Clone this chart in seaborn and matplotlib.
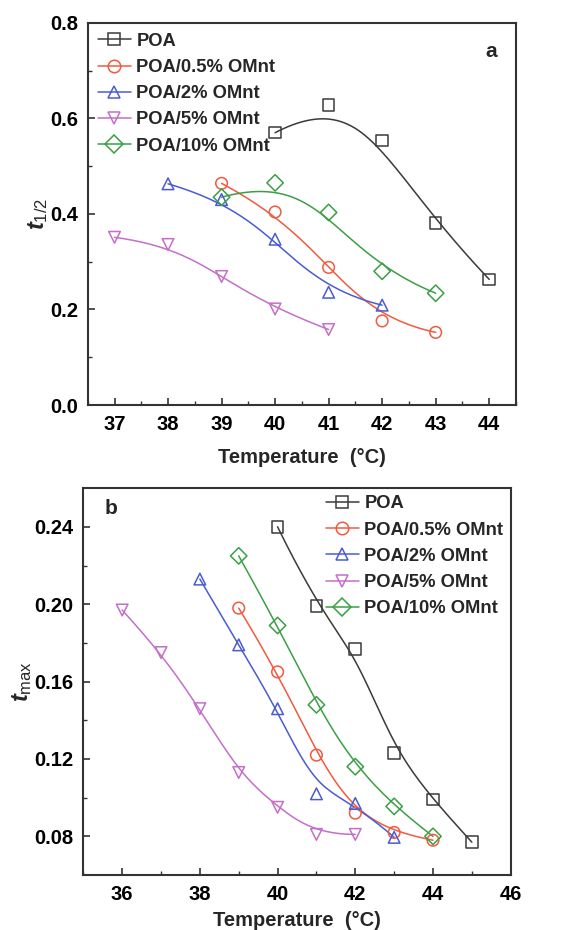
import numpy as np
import pandas as pd
import matplotlib
matplotlib.use("Agg")
import matplotlib.pyplot as plt
import seaborn as sns
from matplotlib.lines import Line2D
from matplotlib.ticker import MultipleLocator

series_names = ["POA", "POA/0.5% OMnt", "POA/2% OMnt", "POA/5% OMnt", "POA/10% OMnt"]
series_colors = ["#3a3a3a", "#f05a40", "#4a5ccf", "#c46fc8", "#3a9f45"]
series_markers = ["s", "o", "^", "v", "D"]

# Panel a: half-time t1/2 vs crystallization temperature
temp_a_poa = [40, 41, 42, 43, 44]
thalf_poa = [0.570, 0.628, 0.554, 0.381, 0.263]
temp_a_05 = [39, 40, 41, 42, 43]
thalf_05 = [0.464, 0.404, 0.288, 0.176, 0.152]
temp_a_2 = [38, 39, 40, 41, 42]
thalf_2 = [0.463, 0.430, 0.347, 0.236, 0.209]
temp_a_5 = [37, 38, 39, 40, 41]
thalf_5 = [0.351, 0.336, 0.269, 0.201, 0.158]
temp_a_10 = [39, 40, 41, 42, 43]
thalf_10 = [0.435, 0.465, 0.403, 0.280, 0.234]

# Panel b: t_max vs crystallization temperature
temp_b_poa = [40, 41, 42, 43, 44, 45]
tmax_poa = [0.240, 0.199, 0.177, 0.123, 0.099, 0.077]
temp_b_05 = [39, 40, 41, 42, 43, 44]
tmax_05 = [0.198, 0.165, 0.122, 0.092, 0.082, 0.078]
temp_b_2 = [38, 39, 40, 41, 42, 43]
tmax_2 = [0.213, 0.179, 0.146, 0.102, 0.097, 0.0795]
temp_b_5 = [36, 37, 38, 39, 40, 41, 42]
tmax_5 = [0.197, 0.175, 0.146, 0.113, 0.095, 0.081, 0.081]
temp_b_10 = [39, 40, 41, 42, 43, 44]
tmax_10 = [0.225, 0.189, 0.148, 0.116, 0.0955, 0.080]

panel_a = [(temp_a_poa, thalf_poa), (temp_a_05, thalf_05), (temp_a_2, thalf_2),
           (temp_a_5, thalf_5), (temp_a_10, thalf_10)]
panel_b = [(temp_b_poa, tmax_poa), (temp_b_05, tmax_05), (temp_b_2, tmax_2),
           (temp_b_5, tmax_5), (temp_b_10, tmax_10)]


def bspline_curve(x, y, num=200):
    """Clamped cubic B-spline using the measured points as control points."""
    pts = np.column_stack([x, y]).astype(float)
    n = len(pts)
    k = min(3, n - 1)
    knots = np.concatenate([np.zeros(k), np.linspace(0, 1, n - k + 1), np.ones(k)])
    u = np.linspace(0, 1, num)
    u[-1] -= 1e-9

    def basis(i, d):
        if d == 0:
            return ((knots[i] <= u) & (u < knots[i + 1])).astype(float)
        out = np.zeros_like(u)
        den1 = knots[i + d] - knots[i]
        den2 = knots[i + d + 1] - knots[i + 1]
        if den1 > 0:
            out += (u - knots[i]) / den1 * basis(i, d - 1)
        if den2 > 0:
            out += (knots[i + d + 1] - u) / den2 * basis(i + 1, d - 1)
        return out

    B = np.column_stack([basis(i, k) for i in range(n)])
    c = B @ pts
    return c[:, 0], c[:, 1]


def make_frames(panel):
    pts, curves = [], []
    for name, (xs, ys) in zip(series_names, panel):
        pts.append(pd.DataFrame({"T": xs, "v": ys, "series": name}))
        cx, cy = bspline_curve(xs, ys)
        curves.append(pd.DataFrame({"T": cx, "v": cy, "series": name}))
    return pd.concat(pts, ignore_index=True), pd.concat(curves, ignore_index=True)


sns.set_theme(style="ticks")
plt.rcParams["font.family"] = ["Liberation Sans", "DejaVu Sans"]
plt.rcParams["font.weight"] = "bold"
plt.rcParams["mathtext.fontset"] = "custom"
plt.rcParams["mathtext.it"] = "Liberation Sans:italic:bold"
plt.rcParams["mathtext.rm"] = "Liberation Sans:bold"
plt.rcParams["mathtext.bf"] = "Liberation Sans:bold"

fig = plt.figure(figsize=(5.85, 9.3), dpi=100)
ax_a = fig.add_axes([0.150, 0.5645, 0.732, 0.411])
ax_b = fig.add_axes([0.1424, 0.0591, 0.7306, 0.416])

palette = dict(zip(series_names, series_colors))


def draw_panel(ax, panel):
    pts, curves = make_frames(panel)
    sns.lineplot(data=curves, x="T", y="v", hue="series", palette=palette,
                 sort=False, estimator=None, legend=False, linewidth=1.1, ax=ax)
    for name, marker in zip(series_names, series_markers):
        sub = pts[pts["series"] == name]
        sns.scatterplot(data=sub, x="T", y="v", marker=marker, s=70,
                        facecolor="none", edgecolor=palette[name],
                        linewidth=1.1, legend=False, ax=ax, zorder=3)


draw_panel(ax_a, panel_a)
draw_panel(ax_b, panel_b)

handles = [Line2D([0], [0], color=c, marker=m, markersize=9, markerfacecolor="none",
                  markeredgecolor=c, markeredgewidth=1.1, linewidth=1.1)
           for c, m in zip(series_colors, series_markers)]

# Axes styling
ax_a.set_xlim(36.5, 44.5)
ax_a.set_ylim(0.0, 0.8)
ax_a.xaxis.set_major_locator(MultipleLocator(1))
ax_a.xaxis.set_minor_locator(MultipleLocator(0.5))
ax_a.yaxis.set_major_locator(MultipleLocator(0.2))
ax_a.yaxis.set_minor_locator(MultipleLocator(0.1))
ax_a.yaxis.set_major_formatter(matplotlib.ticker.FormatStrFormatter("%.1f"))

ax_b.set_xlim(35, 46)
ax_b.set_ylim(0.06, 0.26)
ax_b.xaxis.set_major_locator(MultipleLocator(2))
ax_b.xaxis.set_minor_locator(MultipleLocator(1))
ax_b.yaxis.set_major_locator(matplotlib.ticker.FixedLocator([0.08, 0.12, 0.16, 0.20, 0.24]))
ax_b.yaxis.set_minor_locator(matplotlib.ticker.FixedLocator([0.10, 0.14, 0.18, 0.22]))
ax_b.yaxis.set_major_formatter(matplotlib.ticker.FormatStrFormatter("%.2f"))

for ax in (ax_a, ax_b):
    for sp in ax.spines.values():
        sp.set_visible(True)
        sp.set_linewidth(1.5)
        sp.set_color("#333333")
    ax.tick_params(which="major", direction="in", length=5, width=1.2,
                   labelsize=14.5, color="#333333", labelcolor="black", pad=7)
    ax.tick_params(which="minor", direction="in", length=3, width=1.0, color="#333333")
    for lab in ax.get_xticklabels() + ax.get_yticklabels():
        lab.set_fontweight("bold")
    ax.set_xlabel("Temperature  (°C)", fontsize=14.5, fontweight="bold")

ax_a.xaxis.labelpad = 10
ax_b.xaxis.labelpad = 5
ax_a.set_ylabel(r"$t_{\mathregular{1/2}}$", fontsize=17, labelpad=0)
ax_b.set_ylabel(r"$t_{\mathregular{max}}$", fontsize=17, labelpad=0)

leg_kw = dict(frameon=False, fontsize=13.2, handlelength=1.8, handletextpad=0.3,
              labelspacing=0.5)
leg_a = ax_a.legend(handles, series_names, loc="upper left", borderaxespad=0.15, **leg_kw)
leg_b = ax_b.legend(handles, series_names, loc="upper right", borderaxespad=0.0, **leg_kw)
for leg in (leg_a, leg_b):
    for t in leg.get_texts():
        t.set_fontweight("bold")

ax_a.text(0.955, 0.925, "a", transform=ax_a.transAxes, fontsize=15,
          fontweight="bold", ha="right", va="center")
ax_b.text(0.065, 0.948, "b", transform=ax_b.transAxes, fontsize=15,
          fontweight="bold", ha="center", va="center")

fig.savefig("out.png", dpi=100, facecolor="white")
